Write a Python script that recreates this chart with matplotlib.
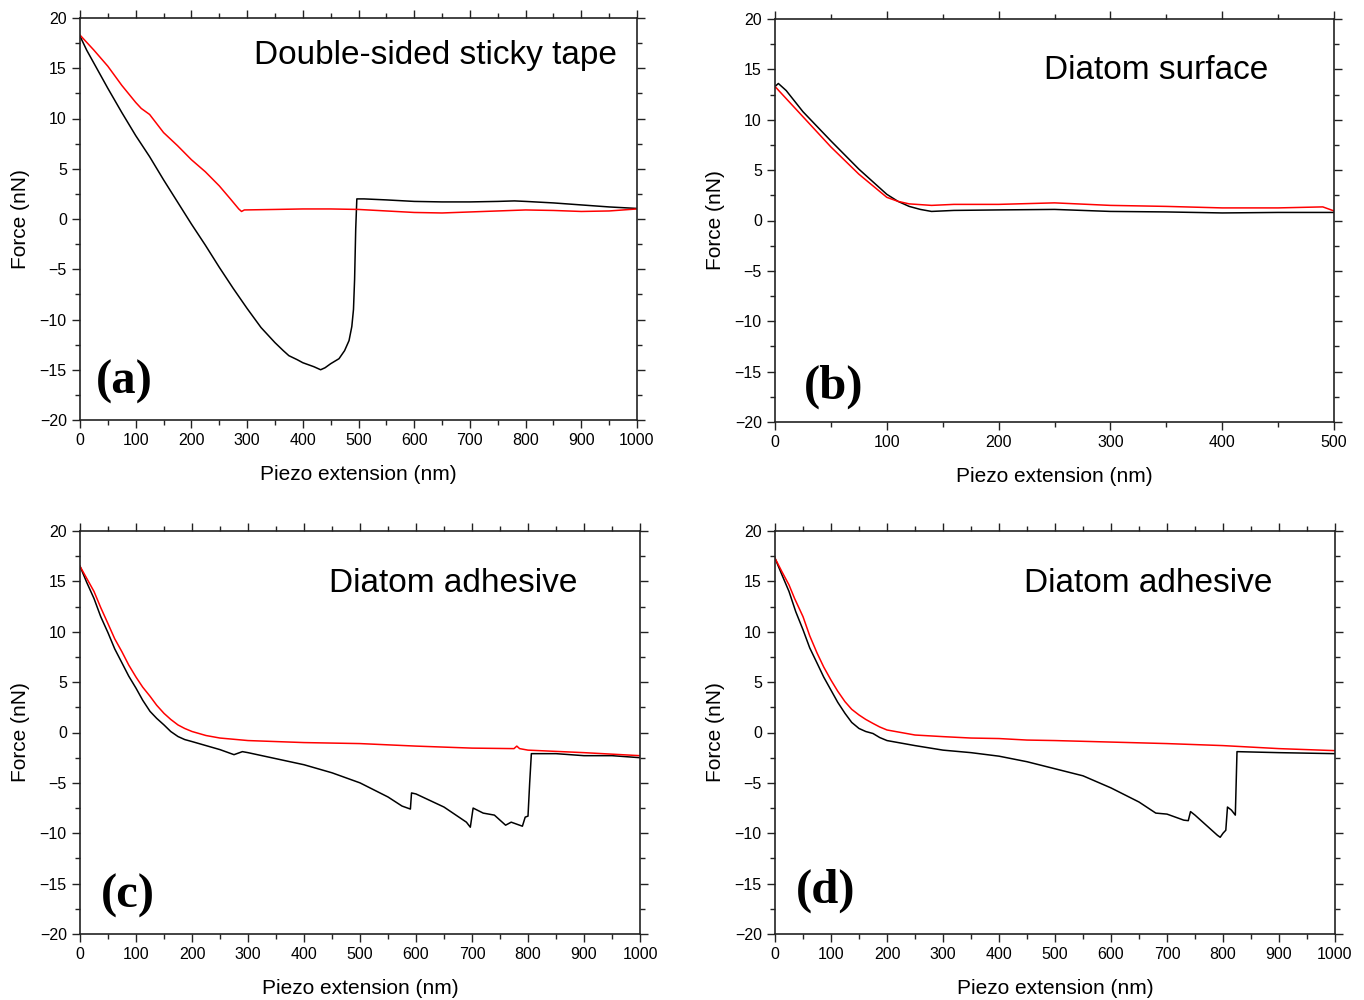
import matplotlib
matplotlib.use("Agg")
from matplotlib import pyplot as plt
from matplotlib.ticker import MultipleLocator

plt.rcParams['font.family'] = ['Liberation Sans', 'DejaVu Sans']

# (a) double-sided sticky tape
a_red_x = [0, 25, 50, 75, 100, 110, 125, 150, 175, 200, 225, 250, 270, 285, 290, 295,
           350, 400, 450, 500, 550, 600, 650, 700, 750, 800, 850, 900, 950, 1000]
a_red_y = [18.3, 16.8, 15.2, 13.3, 11.6, 11.0, 10.4, 8.6, 7.3, 5.9, 4.7, 3.3, 2.0, 1.0, 0.75, 0.9,
           0.95, 1.0, 1.0, 0.95, 0.8, 0.65, 0.6, 0.7, 0.8, 0.9, 0.85, 0.75, 0.8, 1.0]
a_blk_x = [0, 12, 25, 50, 75, 100, 125, 150, 175, 200, 225, 250, 275, 300, 325, 350, 365, 375,
           390, 400, 420, 432, 440, 450, 465, 475, 483, 488, 491, 493, 495, 497, 510, 550, 600,
           650, 700, 750, 780, 800, 850, 900, 950, 1000]
a_blk_y = [18.2, 16.8, 15.5, 13.0, 10.6, 8.3, 6.2, 3.9, 1.7, -0.5, -2.6, -4.8, -6.9, -8.9,
           -10.8, -12.3, -13.1, -13.6, -14.0, -14.3, -14.7, -15.0, -14.8, -14.4, -13.9, -13.1,
           -12.1, -10.7, -9.0, -6.0, -1.0, 2.0, 2.0, 1.9, 1.75, 1.7, 1.7, 1.75, 1.8, 1.75, 1.6,
           1.4, 1.2, 1.05]

# (b) diatom surface
b_red_x = [0, 25, 50, 75, 100, 110, 120, 140, 160, 200, 250, 300, 350, 400, 450, 490, 500]
b_red_y = [13.3, 10.3, 7.3, 4.6, 2.3, 1.9, 1.65, 1.5, 1.6, 1.6, 1.75, 1.5, 1.4, 1.25, 1.25, 1.35, 0.95]
b_blk_x = [0, 3, 10, 25, 50, 75, 100, 110, 120, 130, 140, 160, 200, 250, 300, 350, 400, 450, 500]
b_blk_y = [13.3, 13.6, 12.9, 10.8, 7.9, 5.1, 2.6, 1.9, 1.4, 1.1, 0.9, 1.0, 1.05, 1.1, 0.9,
           0.85, 0.75, 0.8, 0.8]

# (c) diatom adhesive
c_red_x = [0, 12, 25, 37, 50, 62, 75, 87, 100, 112, 125, 137, 150, 162, 175, 187, 200, 225,
           250, 300, 350, 400, 500, 600, 700, 775, 780, 785, 800, 900, 1000]
c_red_y = [16.5, 15.3, 14.0, 12.4, 10.8, 9.3, 8.0, 6.7, 5.5, 4.5, 3.6, 2.7, 1.9, 1.3, 0.75,
           0.4, 0.1, -0.3, -0.55, -0.8, -0.9, -1.0, -1.1, -1.35, -1.55, -1.6, -1.35, -1.6,
           -1.75, -2.0, -2.3]
c_blk_x = [0, 12, 25, 37, 50, 62, 75, 87, 100, 112, 125, 137, 150, 162, 175, 187, 200, 225,
           250, 275, 290, 300, 350, 400, 450, 500, 550, 575, 590, 592, 600, 650, 690, 697,
           702, 720, 740, 760, 770, 780, 790, 795, 800, 803, 806, 850, 900, 950, 1000]
c_blk_y = [16.5, 14.9, 13.3, 11.5, 9.9, 8.3, 6.9, 5.6, 4.4, 3.2, 2.1, 1.4, 0.75, 0.1, -0.4,
           -0.7, -0.9, -1.3, -1.7, -2.2, -1.9, -2.0, -2.6, -3.2, -4.0, -5.0, -6.4, -7.3, -7.6,
           -6.0, -6.1, -7.4, -8.9, -9.4, -7.5, -8.0, -8.2, -9.2, -8.9, -9.1, -9.3, -8.4, -8.3,
           -5.0, -2.1, -2.1, -2.3, -2.3, -2.5]

# (d) diatom adhesive
d_red_x = [0, 12, 25, 35, 50, 62, 75, 87, 100, 112, 125, 137, 150, 162, 175, 187, 200, 225,
           250, 300, 350, 400, 450, 500, 600, 700, 800, 900, 1000]
d_red_y = [17.3, 16.0, 14.65, 13.3, 11.5, 9.6, 7.9, 6.5, 5.2, 4.1, 3.06, 2.3, 1.74, 1.3, 0.9,
           0.55, 0.25, 0.0, -0.25, -0.41, -0.55, -0.6, -0.75, -0.8, -0.95, -1.1, -1.3, -1.6, -1.8]
d_blk_x = [0, 12, 25, 37, 50, 62, 75, 87, 100, 112, 125, 137, 150, 162, 175, 187, 200, 250,
           300, 350, 400, 450, 500, 550, 600, 650, 680, 700, 730, 738, 742, 750, 770, 790, 795,
           800, 805, 808, 815, 822, 825, 900, 1000]
d_blk_y = [17.3, 15.7, 14.0, 12.0, 10.2, 8.4, 6.9, 5.5, 4.2, 3.0, 1.9, 1.0, 0.4, 0.1, -0.1,
           -0.5, -0.8, -1.3, -1.75, -2.0, -2.35, -2.9, -3.6, -4.3, -5.5, -6.9, -8.0, -8.1, -8.7,
           -8.75, -7.85, -8.2, -9.2, -10.2, -10.4, -10.0, -9.7, -7.4, -7.7, -8.2, -1.9, -2.0, -2.1]

panels = [
    # rect, xmax, title, title pos, letter, letter pos, data
    ([80/1364, 0.580, 557/1364, 0.402], 1000, "Double-sided sticky tape", (0.963, 0.906), "(a)", (0.079, 0.095),
     a_red_x, a_red_y, a_blk_x, a_blk_y),
    ([775/1364, 0.578, 559/1364, 0.403], 500, "Diatom surface", (0.882, 0.873), "(b)", (0.104, 0.088),
     b_red_x, b_red_y, b_blk_x, b_blk_y),
    ([80/1364, 0.066, 560/1364, 0.403], 1000, "Diatom adhesive", (0.889, 0.870), "(c)", (0.086, 0.095),
     c_red_x, c_red_y, c_blk_x, c_blk_y),
    ([775/1364, 0.066, 560/1364, 0.403], 1000, "Diatom adhesive", (0.889, 0.870), "(d)", (0.091, 0.108),
     d_red_x, d_red_y, d_blk_x, d_blk_y),
]

fig = plt.figure(figsize=(13.64, 10), dpi=100)

for rect, xmax, title, tpos, letter, lpos, rx, ry, kx, ky in panels:
    ax = fig.add_axes(rect)
    ax.plot(kx, ky, color='black', lw=1.1)
    ax.plot(rx, ry, color='#ff0000', lw=1.1)
    ax.set_xlim(0, xmax)
    ax.set_ylim(-20, 20)
    ax.xaxis.set_major_locator(MultipleLocator(100))
    ax.xaxis.set_minor_locator(MultipleLocator(50))
    ax.yaxis.set_major_locator(MultipleLocator(5))
    ax.yaxis.set_minor_locator(MultipleLocator(2.5))
    ax.tick_params(which='both', direction='out', top=True, right=True, labelsize=11.5,
                   color='#222222', width=1.0)
    ax.tick_params(which='major', length=6)
    ax.tick_params(which='minor', length=3.5)
    for s in ax.spines.values():
        s.set_linewidth(1.2)
        s.set_color('#222222')
    ax.set_xlabel("Piezo extension (nm)", fontsize=15, labelpad=12)
    ax.set_ylabel("Force (nN)", fontsize=15, labelpad=7)
    ax.text(tpos[0], tpos[1], title, transform=ax.transAxes, ha='right', va='center', fontsize=24)
    ax.text(lpos[0], lpos[1], letter, transform=ax.transAxes, ha='center', va='center',
            fontsize=35, fontweight='bold', family=['Liberation Serif', 'DejaVu Serif'])

fig.savefig("out.png", dpi=100)
